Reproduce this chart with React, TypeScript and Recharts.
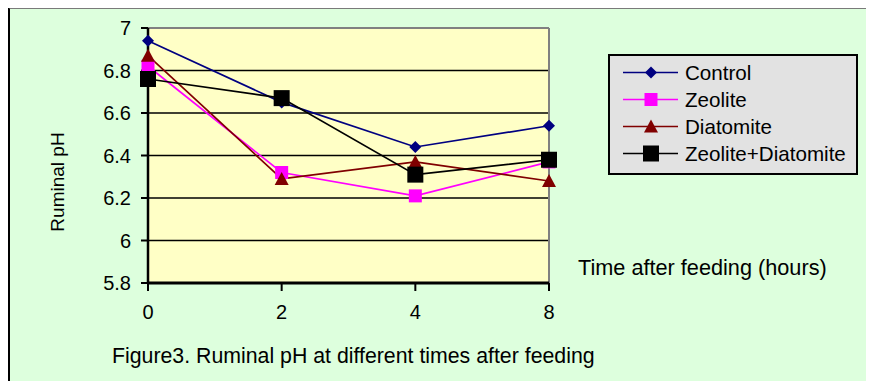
import React from 'react';
import { LineChart, Line, XAxis, YAxis, CartesianGrid, Legend, ReferenceLine } from 'recharts';

const hours = ['0', '2', '4', '8'];
const control = [6.94, 6.65, 6.44, 6.54];
const zeolite = [6.82, 6.32, 6.21, 6.37];
const diatomite = [6.87, 6.29, 6.37, 6.28];
const zeoDiat = [6.76, 6.67, 6.31, 6.38];
const yTicks = [5.8, 6, 6.2, 6.4, 6.6, 6.8, 7];

const FONT = "Arial, 'Liberation Sans', sans-serif";

const data = hours.map((h, i) => ({
  time: h,
  control: control[i],
  zeolite: zeolite[i],
  diatomite: diatomite[i],
  zeoDiat: zeoDiat[i],
}));

type Shape = 'diamond' | 'square' | 'triangle' | 'bigSquare';

const Marker = ({ cx, cy, shape, color }: { cx: number; cy: number; shape: Shape; color: string }) => {
  if (cx == null || cy == null) return null;
  if (shape === 'diamond') {
    const r = 6;
    return <polygon points={`${cx},${cy - r} ${cx + r},${cy} ${cx},${cy + r} ${cx - r},${cy}`} fill={color} />;
  }
  if (shape === 'triangle') {
    return <polygon points={`${cx},${cy - 7} ${cx + 7},${cy + 6} ${cx - 7},${cy + 6}`} fill={color} />;
  }
  const s = shape === 'bigSquare' ? 16 : 13;
  return <rect x={cx - s / 2} y={cy - s / 2} width={s} height={s} fill={color} />;
};

const series: { key: string; name: string; color: string; shape: Shape }[] = [
  { key: 'control', name: 'Control', color: '#000080', shape: 'diamond' },
  { key: 'zeolite', name: 'Zeolite', color: '#ff00ff', shape: 'square' },
  { key: 'diatomite', name: 'Diatomite', color: '#800000', shape: 'triangle' },
  { key: 'zeoDiat', name: 'Zeolite+Diatomite', color: '#000000', shape: 'bigSquare' },
];

const LegendBox = () => (
  <div
    style={{
      width: 250,
      height: 121,
      boxSizing: 'border-box',
      border: '2px solid #000',
      background: '#e2e2e2',
      paddingTop: 3,
      fontFamily: FONT,
      fontSize: 20.6,
      color: '#000',
    }}
  >
    {series.map(s => (
      <div key={s.key} style={{ display: 'flex', alignItems: 'center', height: 27 }}>
        <svg width={75} height={27} style={{ display: 'block' }}>
          <line x1={13} x2={68} y1={13.5} y2={13.5} stroke={s.color} strokeWidth={1.5} />
          <Marker cx={41} cy={13.5} shape={s.shape} color={s.color} />
        </svg>
        <span style={{ lineHeight: '27px' }}>{s.name}</span>
      </div>
    ))}
  </div>
);

export default function App() {
  return (
    <div style={{ position: 'relative', width: 866, height: 373, background: '#ddffdd' }}>
      <div
        style={{
          position: 'absolute',
          left: 0,
          top: -1,
          width: 866,
          height: 374,
          boxSizing: 'border-box',
          borderTop: '2px solid #7a7a7a',
          borderLeft: '2px solid #000',
          pointerEvents: 'none',
        }}
      />
      <LineChart
        width={866}
        height={373}
        data={data}
        margin={{ top: 20, right: 325, bottom: 68, left: 80 }}
      >
        <CartesianGrid vertical={false} stroke="#000" strokeWidth={1.5} fill="#ffffc6" fillOpacity={1} />
        <XAxis
          dataKey="time"
          height={30}
          padding={{ left: 0, right: 0 }}
          axisLine={{ stroke: '#000', strokeWidth: 3 }}
          tickLine={{ stroke: '#000', strokeWidth: 2 }}
          tickSize={8}
          tickMargin={14}
          tick={{ fill: '#000', fontSize: 20, fontFamily: FONT }}
          label={{
            content: () => (
              <g fontFamily={FONT} fill="#000">
                <text x={570} y={267} fontSize={21.7}>Time after feeding (hours)</text>
                <text x={104} y={355} fontSize={21.3}>Figure3. Ruminal pH at different times after feeding</text>
              </g>
            ),
          }}
        />
        <YAxis
          width={60}
          domain={[5.8, 7]}
          ticks={yTicks}
          interval={0}
          axisLine={{ stroke: '#000', strokeWidth: 2.5 }}
          tickLine={{ stroke: '#000', strokeWidth: 2 }}
          tickSize={7}
          tickMargin={10}
          tick={{ fill: '#000', fontSize: 20, fontFamily: FONT }}
          label={{
            content: () => (
              <text
                x={49}
                y={174}
                transform="rotate(-90 49 174)"
                textAnchor="middle"
                dominantBaseline="central"
                fontSize={19}
                fontFamily={FONT}
                fill="#000"
              >
                Ruminal pH
              </text>
            ),
          }}
        />
        <ReferenceLine y={7} stroke="#808080" strokeWidth={2} />
        <ReferenceLine x="8" stroke="#808080" strokeWidth={2} />
        <Legend
          layout="horizontal"
          verticalAlign="middle"
          align="center"
          content={() => <LegendBox />}
          wrapperStyle={{ position: 'absolute', left: 600, top: 46, width: 250, height: 121 }}
        />
        {series.map(s => (
          <Line
            key={s.key}
            dataKey={s.key}
            name={s.name}
            stroke={s.color}
            strokeWidth={1.7}
            isAnimationActive={false}
            dot={(p: any) => <Marker key={`${s.key}-${p.index}`} cx={p.cx} cy={p.cy} shape={s.shape} color={s.color} />}
            activeDot={false}
          />
        ))}
      </LineChart>
    </div>
  );
}
